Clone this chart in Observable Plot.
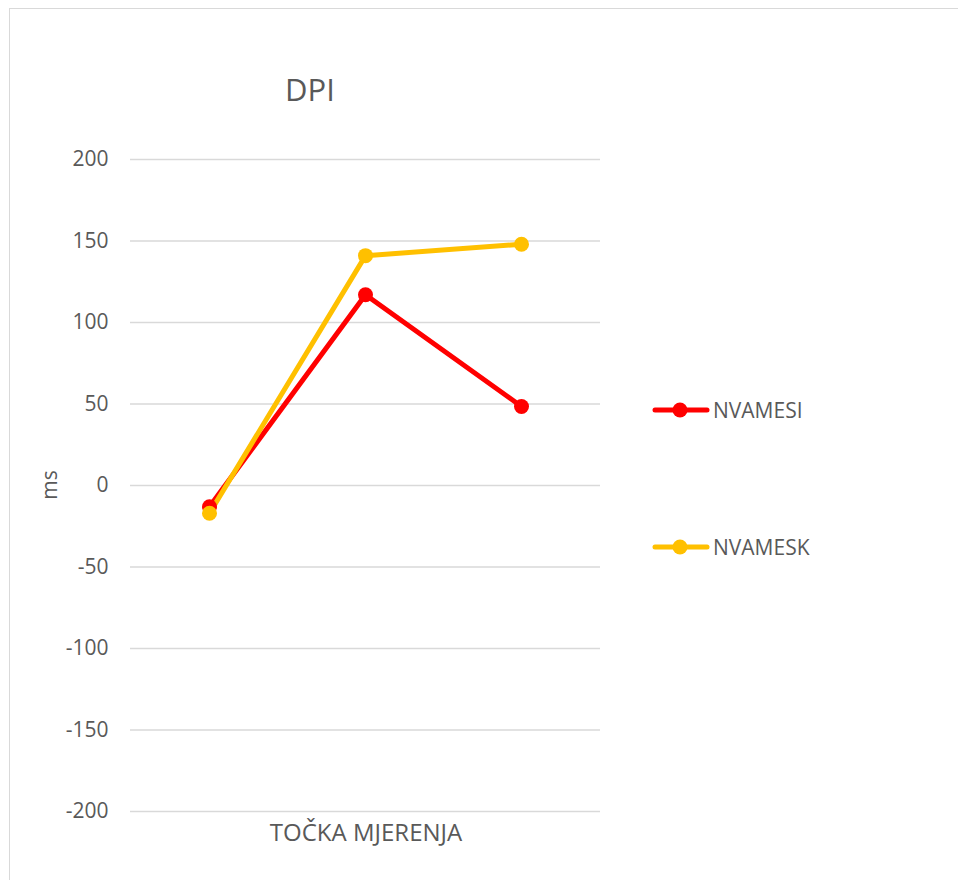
<!DOCTYPE html>
<html>
<head>
<meta charset="utf-8">
<script src="https://cdn.jsdelivr.net/npm/d3@7"></script>
<script src="https://cdn.jsdelivr.net/npm/@observablehq/plot@0.6"></script>
<style>
  html, body { margin: 0; padding: 0; background: #fff; }
  #wrap { position: relative; width: 958px; height: 880px; overflow: hidden; font-family: "Open Sans", sans-serif; color: #595959; }
  #wrap svg { position: absolute; left: 0; top: 0; }
  .frame-top { position: absolute; left: 9px; top: 8px; width: 949px; height: 0; border-top: 1.5px solid #d9d9d9; }
  .frame-left { position: absolute; left: 9px; top: 8px; width: 0; height: 872px; border-left: 1.5px solid #d9d9d9; }
  .title { position: absolute; left: 310px; top: 68px; transform: translateX(-50%); font-size: 31px; white-space: nowrap; }
  .xlabel { position: absolute; left: 366px; top: 814.5px; transform: translateX(-50%); font-size: 24px; white-space: nowrap; }
  .ylabel { position: absolute; left: 49px; top: 485px; transform: translate(-50%, -50%) rotate(-90deg); font-size: 21px; white-space: nowrap; }
  .legend { position: absolute; left: 652px; font-size: 21px; display: flex; align-items: center; white-space: nowrap; }
  .legend svg { position: static !important; margin-right: 3px; }
</style>
</head>
<body>
<div id="wrap">
  <div class="frame-top"></div>
  <div class="frame-left"></div>
</div>
<script>
const chartTitle = "DPI";
const xLabel = "TOČKA MJERENJA";
const yLabel = "ms";
const categories = ["1", "2", "3"];
const seriesNames = ["NVAMESI", "NVAMESK"];
const nvamesi = [-13, 117, 48.5];
const nvamesk = [-17, 141, 148];
const seriesColors = ["#FF0000", "#FFC000"];
const yTicks = [-200, -150, -100, -50, 0, 50, 100, 150, 200];

const seriesValues = [nvamesi, nvamesk];
const data = [];
seriesNames.forEach((s, i) => {
  categories.forEach((c, j) => data.push({series: s, cat: c, value: seriesValues[i][j]}));
});

const plot = Plot.plot({
  width: 958,
  height: 880,
  marginLeft: 130,
  marginRight: 358,
  marginTop: 159,
  marginBottom: 69,
  style: {fontFamily: "Open Sans, sans-serif", fontSize: "21px", color: "#595959", background: "transparent"},
  x: {type: "point", domain: categories, padding: 0.5, axis: null},
  y: {domain: [-200, 200], axis: null},
  color: {domain: seriesNames, range: seriesColors},
  marks: [
    Plot.gridY(yTicks, {stroke: "#d9d9d9", strokeOpacity: 1, strokeWidth: 1.5}),
    Plot.axisY(yTicks, {tickSize: 0, tickPadding: 22, fontSize: 21, fill: "#595959", label: null, tickFormat: d => String(d)}),
    Plot.line(data, {x: "cat", y: "value", z: "series", stroke: "series", strokeWidth: 5, strokeLinecap: "round", strokeLinejoin: "round"}),
    Plot.dot(data, {x: "cat", y: "value", fill: "series", r: 7.5, stroke: "none"})
  ]
});

const wrap = document.getElementById("wrap");
wrap.appendChild(plot);

function addDiv(cls, text) {
  const d = document.createElement("div");
  d.className = cls;
  d.textContent = text;
  wrap.appendChild(d);
  return d;
}
addDiv("title", chartTitle);
addDiv("xlabel", xLabel);
addDiv("ylabel", yLabel);

const legendY = [410, 547];
seriesNames.forEach((s, i) => {
  const d = document.createElement("div");
  d.className = "legend";
  d.style.top = (legendY[i] - 15) + "px";
  const sw = d3.create("svg").attr("width", 58).attr("height", 30);
  sw.append("line").attr("x1", 3).attr("x2", 55).attr("y1", 15).attr("y2", 15)
    .attr("stroke", seriesColors[i]).attr("stroke-width", 5).attr("stroke-linecap", "round");
  sw.append("circle").attr("cx", 28).attr("cy", 15).attr("r", 7.5).attr("fill", seriesColors[i]);
  d.appendChild(sw.node());
  const t = document.createElement("span");
  t.textContent = s;
  d.appendChild(t);
  wrap.appendChild(d);
});
</script>
</body>
</html>
